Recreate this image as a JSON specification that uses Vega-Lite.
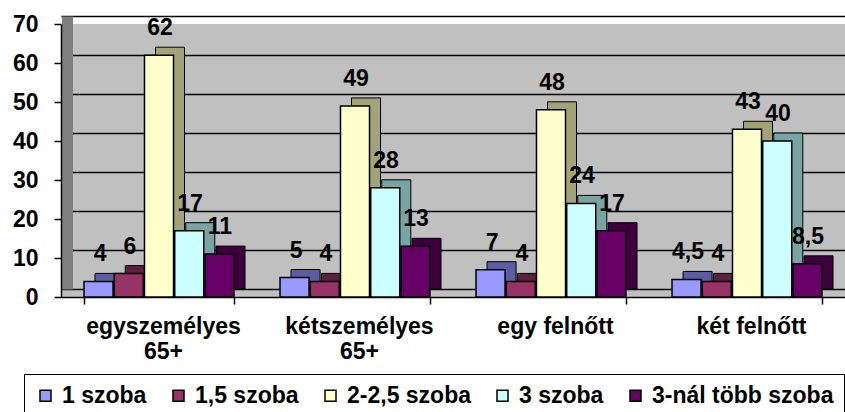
{
  "$schema": "https://vega.github.io/schema/vega-lite/v6.json",
  "width": 784,
  "height": 273,
  "autosize": {"type": "none"},
  "padding": {"left": 61, "top": 24, "right": 0, "bottom": 115},
  "background": "white",
  "config": {
    "locale": {"number": {"decimal": ",", "thousands": " ", "grouping": [3], "currency": ["", " Ft"]}},
    "view": {"fill": "#C0C0C0", "stroke": null},
    "font": "Liberation Sans"
  },
  "data": {
    "values": [
      {"cat": "egyszemélyes 65+", "series": "1 szoba", "value": 4},
      {"cat": "egyszemélyes 65+", "series": "1,5 szoba", "value": 6},
      {"cat": "egyszemélyes 65+", "series": "2-2,5 szoba", "value": 62},
      {"cat": "egyszemélyes 65+", "series": "3 szoba", "value": 17},
      {"cat": "egyszemélyes 65+", "series": "3-nál több szoba", "value": 11},
      {"cat": "kétszemélyes 65+", "series": "1 szoba", "value": 5},
      {"cat": "kétszemélyes 65+", "series": "1,5 szoba", "value": 4},
      {"cat": "kétszemélyes 65+", "series": "2-2,5 szoba", "value": 49},
      {"cat": "kétszemélyes 65+", "series": "3 szoba", "value": 28},
      {"cat": "kétszemélyes 65+", "series": "3-nál több szoba", "value": 13},
      {"cat": "egy felnőtt", "series": "1 szoba", "value": 7},
      {"cat": "egy felnőtt", "series": "1,5 szoba", "value": 4},
      {"cat": "egy felnőtt", "series": "2-2,5 szoba", "value": 48},
      {"cat": "egy felnőtt", "series": "3 szoba", "value": 24},
      {"cat": "egy felnőtt", "series": "3-nál több szoba", "value": 17},
      {"cat": "két felnőtt", "series": "1 szoba", "value": 4.5},
      {"cat": "két felnőtt", "series": "1,5 szoba", "value": 4},
      {"cat": "két felnőtt", "series": "2-2,5 szoba", "value": 43},
      {"cat": "két felnőtt", "series": "3 szoba", "value": 40},
      {"cat": "két felnőtt", "series": "3-nál több szoba", "value": 8.5}
    ]
  },
  "layer": [
    {
      "mark": {"type": "bar", "stroke": "black", "strokeWidth": 1},
      "encoding": {
        "x": {"field": "cat", "type": "nominal", "sort": null,
          "scale": {"paddingInner": 0.235, "paddingOuter": 0.1175},
          "axis": {"title": null, "labelAngle": 0, "labelFontSize": 23, "labelFontWeight": "bold", "labelColor": "black",
            "labelPadding": 11, "labelLineHeight": 25, "labelOffset": 4, "tickBand": "extent", "tickSize": 7,
            "tickColor": "black", "tickWidth": 1.5, "domainColor": "black", "domainWidth": 1.5,
            "labelExpr": "indexof(datum.label, ' 65+') > 0 ? [replace(datum.label, ' 65+', ''), '65+'] : datum.label"}},
        "xOffset": {"field": "series", "type": "nominal",
          "sort": ["1 szoba", "1,5 szoba", "2-2,5 szoba", "3 szoba", "3-nál több szoba"],
          "scale": {"range": [11, 161], "paddingInner": 0.04}},
        "y": {"field": "value", "type": "quantitative",
          "scale": {"domain": [0, 70], "range": [265, -8], "nice": false},
          "axis": {"orient": "left", "title": null, "values": [0, 10, 20, 30, 40, 50, 60, 70], "grid": true,
            "gridColor": "black", "gridWidth": 1.5, "labels": false, "ticks": false, "domain": true,
            "domainColor": "#808080", "domainWidth": 11, "offset": -6}},
        "color": {"field": "series", "type": "nominal",
          "scale": {"domain": ["1 szoba", "1,5 szoba", "2-2,5 szoba", "3 szoba", "3-nál több szoba"],
            "range": ["#5C5CA3", "#5C1F3D", "#A3A37A", "#7AA3A3", "#3D003D"]},
          "legend": null}
      }
    },
    {
      "mark": {"type": "bar", "stroke": "black", "strokeWidth": 1.5},
      "encoding": {
        "x": {"field": "cat", "type": "nominal", "sort": null,
          "scale": {"paddingInner": 0.235, "paddingOuter": 0.1175}},
        "xOffset": {"field": "series", "type": "nominal",
          "sort": ["1 szoba", "1,5 szoba", "2-2,5 szoba", "3 szoba", "3-nál több szoba"],
          "scale": {"paddingInner": 0.04}},
        "y": {"field": "value", "type": "quantitative",
          "scale": {"domain": [0, 70], "nice": false},
          "axis": {"orient": "left", "title": null, "values": [0, 10, 20, 30, 40, 50, 60, 70], "grid": false,
            "labelFontSize": 23, "labelFontWeight": "bold", "labelColor": "black", "labelPadding": 16,
            "tickSize": 7, "tickColor": "black", "tickWidth": 1.5, "domainColor": "black", "domainWidth": 1.5}},
        "color": {"field": "series", "type": "nominal",
          "scale": {"domain": ["1 szoba", "1,5 szoba", "2-2,5 szoba", "3 szoba", "3-nál több szoba"],
            "range": ["#9999FF", "#993366", "#FFFFCC", "#CCFFFF", "#660066"]},
          "legend": {"title": null, "orient": "none", "legendX": -37, "legendY": 350, "direction": "horizontal",
            "columns": 5, "strokeColor": "black", "fillColor": "white", "padding": 10, "symbolType": "square",
            "symbolSize": 121, "symbolStrokeColor": "black", "symbolStrokeWidth": 1.5, "labelFontSize": 23,
            "labelFontWeight": "bold", "labelColor": "black", "labelOffset": 5, "columnPadding": 20, "labelLimit": 300}}
      }
    },
    {
      "mark": {"type": "text", "fontSize": 23, "fontWeight": "bold", "color": "black", "baseline": "alphabetic", "dy": -20, "dx": 1},
      "encoding": {
        "x": {"field": "cat", "type": "nominal", "sort": null,
          "scale": {"paddingInner": 0.235, "paddingOuter": 0.1175}},
        "xOffset": {"field": "series", "type": "nominal",
          "sort": ["1 szoba", "1,5 szoba", "2-2,5 szoba", "3 szoba", "3-nál több szoba"],
          "scale": {"paddingInner": 0.04}},
        "y": {"field": "value", "type": "quantitative", "scale": {"domain": [0, 70], "nice": false}, "axis": null},
        "text": {"field": "value", "type": "quantitative", "format": ".1~f"}
      }
    }
  ],
  "resolve": {
    "scale": {"y": "independent", "xOffset": "independent", "color": "independent"},
    "axis": {"y": "independent"}
  }
}
